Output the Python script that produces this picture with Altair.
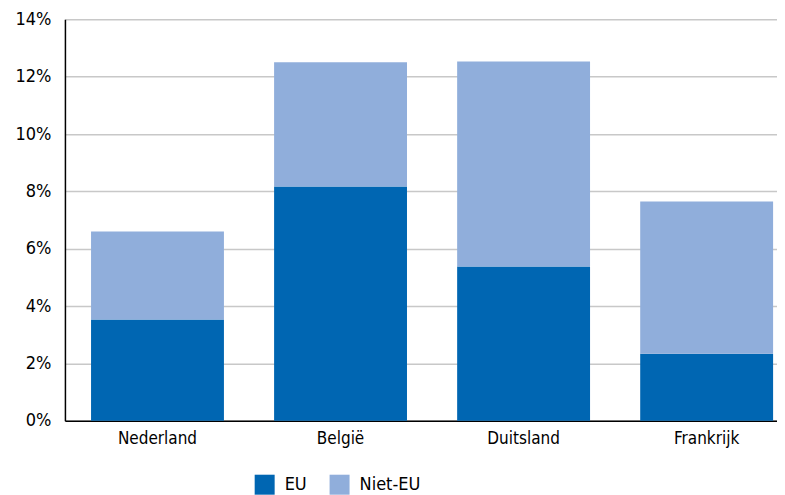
import altair as alt
import pandas as pd

landen = ["Nederland", "België", "Duitsland", "Frankrijk"]
eu = [3.53, 8.17, 5.38, 2.34]
niet_eu = [3.07, 4.33, 7.15, 5.31]
reeksen = ["EU", "Niet-EU"]
y_ticks = [0, 2, 4, 6, 8, 10, 12, 14]

rows = []
for i, land in enumerate(landen):
    rows.append({"land": land, "reeks": "EU", "waarde": eu[i], "volgorde": 0})
    rows.append({"land": land, "reeks": "Niet-EU", "waarde": niet_eu[i], "volgorde": 1})
df = pd.DataFrame(rows)

FONT = "DejaVu Sans Condensed"

chart = alt.Chart(df).mark_bar().encode(
    x=alt.X("land:N", sort=landen, title=None,
            scale=alt.Scale(paddingInner=0.274, paddingOuter=0.082, align=0.87),
            axis=alt.Axis(labelAngle=0, labelFontSize=17, labelColor="#000000",
                          labelFont=FONT, ticks=False, labelPadding=10,
                          domainColor="#000000", domainWidth=1.5, grid=False)),
    y=alt.Y("waarde:Q", stack="zero", title=None,
            scale=alt.Scale(domain=[0, 14], nice=False),
            axis=alt.Axis(values=y_ticks, labelExpr="datum.value + '%'",
                          labelFontSize=18, labelColor="#000000", labelFont=FONT,
                          ticks=False, labelPadding=14, domainColor="#000000",
                          domainWidth=1.5, gridColor="#c8c8c8", gridWidth=1.5)),
    color=alt.Color("reeks:N", sort=reeksen, title=None,
                    scale=alt.Scale(domain=reeksen, range=["#0066b2", "#90aedb"]),
                    legend=alt.Legend(orient="none", legendX=190, legendY=456,
                                      direction="horizontal",
                                      symbolType="square", symbolSize=400,
                                      symbolStrokeWidth=0, labelFontSize=18,
                                      labelFont=FONT, labelColor="#000000",
                                      columnPadding=22, labelOffset=10)),
    order=alt.Order("volgorde:Q", sort="ascending"),
).properties(
    width=713, height=402, padding={"top": 2, "left": 7, "right": 0, "bottom": 0}
).configure_view(stroke=None)

chart.save("out.html", embed_options={"renderer": "svg", "actions": False})
